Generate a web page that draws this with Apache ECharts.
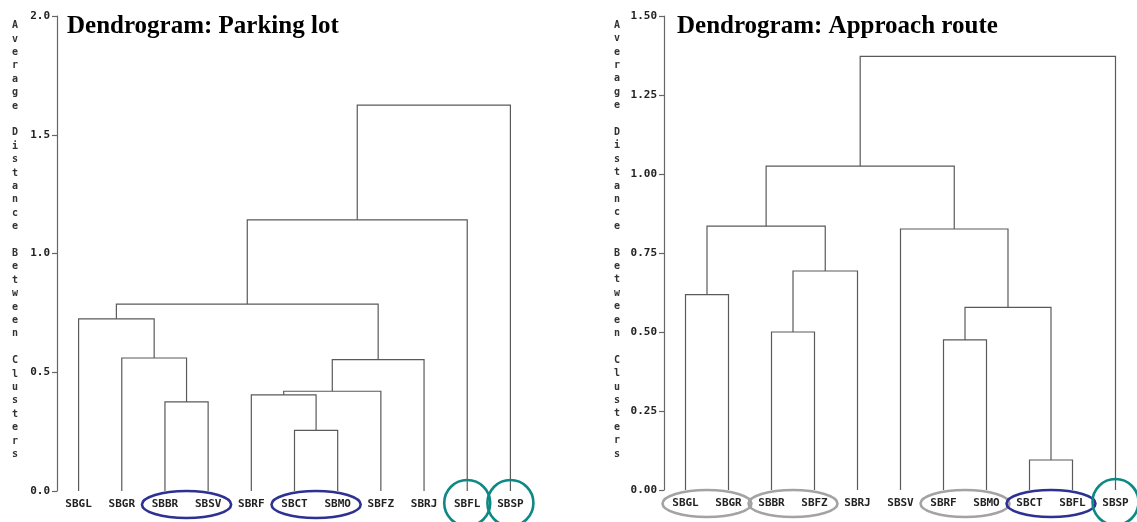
<!DOCTYPE html>
<html>
<head>
<meta charset="utf-8">
<title>Dendrograms</title>
<script src="https://cdn.jsdelivr.net/npm/echarts@6/dist/echarts.min.js"></script>
<style>
  html, body { margin: 0; padding: 0; background: #fff; }
  #chart { width: 1137px; height: 522px; }
</style>
</head>
<body>
<div id="chart"></div>
<script>
// leaf order along the x axis
const parkingLeaves = ['SBGL', 'SBGR', 'SBBR', 'SBSV', 'SBRF', 'SBCT', 'SBMO', 'SBFZ', 'SBRJ', 'SBFL', 'SBSP'];
// merges: [child a, child b, height]; '#n' points to the n-th merge
const parkingMerges = [
  ['SBBR', 'SBSV', 0.375],
  ['SBCT', 'SBMO', 0.255],
  ['SBRF', '#1', 0.405],
  ['#2', 'SBFZ', 0.42],
  ['SBGR', '#0', 0.56],
  ['#3', 'SBRJ', 0.553],
  ['SBGL', '#4', 0.725],
  ['#6', '#5', 0.787],
  ['#7', 'SBFL', 1.142],
  ['#8', 'SBSP', 1.625]
];
const parkingTicks = ['0.0', '0.5', '1.0', '1.5', '2.0'];
// circled groups: [first leaf, last leaf, colour]
const parkingGroups = [
  ['SBBR', 'SBSV', 'blue'],
  ['SBCT', 'SBMO', 'blue'],
  ['SBFL', 'SBFL', 'teal'],
  ['SBSP', 'SBSP', 'teal']
];

const approachLeaves = ['SBGL', 'SBGR', 'SBBR', 'SBFZ', 'SBRJ', 'SBSV', 'SBRF', 'SBMO', 'SBCT', 'SBFL', 'SBSP'];
const approachMerges = [
  ['SBCT', 'SBFL', 0.095],
  ['SBRF', 'SBMO', 0.475],
  ['SBBR', 'SBFZ', 0.5],
  ['#1', '#0', 0.578],
  ['SBGL', 'SBGR', 0.618],
  ['#2', 'SBRJ', 0.693],
  ['SBSV', '#3', 0.826],
  ['#4', '#5', 0.835],
  ['#7', '#6', 1.025],
  ['#8', 'SBSP', 1.372]
];
const approachTicks = ['0.00', '0.25', '0.50', '0.75', '1.00', '1.25', '1.50'];
const approachGroups = [
  ['SBGL', 'SBGR', 'gray'],
  ['SBBR', 'SBFZ', 'gray'],
  ['SBRF', 'SBMO', 'gray'],
  ['SBCT', 'SBFL', 'blue'],
  ['SBSP', 'SBSP', 'teal']
];

const ringColors = { blue: '#2d3192', teal: '#0d8985', gray: '#a3a3a3' };
// stacked letters, two blank lines at the end lift it a bit above the axis middle
const axisName = 'Average Distance Between Clusters'.split('').join('\n') + '\n \n ';
const monoFont = { fontFamily: 'DejaVu Sans Mono', fontWeight: 'bold', color: '#222' };
const lineColor = '#5a5a5a';

function treeSeries(idx, leaves, merges) {
  return {
    type: 'custom',
    xAxisIndex: idx,
    yAxisIndex: idx,
    silent: true,
    data: merges.map((m, i) => [i, m[2]]),
    renderItem: (params, api) => {
      const node = (key) => {
        if (key[0] === '#') {
          const m = merges[+key.slice(1)];
          const a = node(m[0]);
          const b = node(m[1]);
          return { x: (a.x + b.x) / 2, h: m[2] };
        }
        return { x: api.coord([leaves.indexOf(key), 0])[0], h: 0 };
      };
      const m = merges[params.dataIndex];
      const a = node(m[0]);
      const b = node(m[1]);
      const y = (h) => api.coord([0, h])[1];
      return {
        type: 'polyline',
        shape: { points: [[a.x, y(a.h)], [a.x, y(m[2])], [b.x, y(m[2])], [b.x, y(b.h)]] },
        style: { stroke: lineColor, lineWidth: 1.2, fill: 'none' }
      };
    }
  };
}

function groupSeries(idx, leaves, groups) {
  return {
    type: 'custom',
    xAxisIndex: idx,
    yAxisIndex: idx,
    silent: true,
    z: 5,
    data: groups.map((g) => [leaves.indexOf(g[0]), 0]),
    renderItem: (params, api) => {
      const g = groups[params.dataIndex];
      const p0 = api.coord([leaves.indexOf(g[0]), 0]);
      const p1 = api.coord([leaves.indexOf(g[1]), 0]);
      const style = { stroke: ringColors[g[2]], lineWidth: 2.6, fill: 'none' };
      if (g[0] === g[1]) {
        return { type: 'circle', shape: { cx: p0[0], cy: p0[1] + 12, r: 23 }, style };
      }
      return {
        type: 'ellipse',
        shape: { cx: (p0[0] + p1[0]) / 2, cy: p0[1] + 13.5, rx: (p1[0] - p0[0]) / 2 + 23, ry: 13.5 },
        style
      };
    }
  };
}

function yAxis(idx, max, step, ticks, gap) {
  return {
    type: 'value',
    gridIndex: idx,
    min: 0,
    max: max,
    interval: step,
    axisLine: { show: true, lineStyle: { color: '#666', width: 1.2 } },
    axisTick: { show: true, length: 5, lineStyle: { color: '#666', width: 1.2 } },
    splitLine: { show: false },
    axisLabel: { ...monoFont, fontSize: 11, margin: 7, formatter: (v) => ticks[Math.round(v / step)] },
    name: axisName,
    nameLocation: 'middle',
    nameRotate: 0,
    nameGap: gap,
    nameTextStyle: { ...monoFont, color: '#333', fontSize: 10, lineHeight: 13.4 }
  };
}

function xAxis(idx, leaves) {
  return {
    type: 'category',
    gridIndex: idx,
    data: leaves,
    boundaryGap: true,
    axisLine: { show: false },
    axisTick: { show: false },
    axisLabel: { ...monoFont, fontSize: 11, margin: 8, interval: 0 }
  };
}

const titleStyle = { fontFamily: 'Liberation Serif', fontWeight: 'bold', fontSize: 25, color: '#000' };

const chart = echarts.init(document.getElementById('chart'));
chart.setOption({
  animation: false,
  backgroundColor: '#fff',
  title: [
    { text: 'Dendrogram: Parking lot', left: 62, top: 9, textStyle: titleStyle },
    { text: 'Dendrogram: Approach route', left: 672, top: 9, textStyle: titleStyle }
  ],
  grid: [
    { left: 57, top: 16, width: 475, height: 475 },
    { left: 664, top: 16, width: 474, height: 474 }
  ],
  xAxis: [xAxis(0, parkingLeaves), xAxis(1, approachLeaves)],
  yAxis: [yAxis(0, 2, 0.5, parkingTicks, 39), yAxis(1, 1.5, 0.25, approachTicks, 44)],
  series: [
    treeSeries(0, parkingLeaves, parkingMerges),
    treeSeries(1, approachLeaves, approachMerges),
    groupSeries(0, parkingLeaves, parkingGroups),
    groupSeries(1, approachLeaves, approachGroups)
  ]
});
</script>
</body>
</html>
